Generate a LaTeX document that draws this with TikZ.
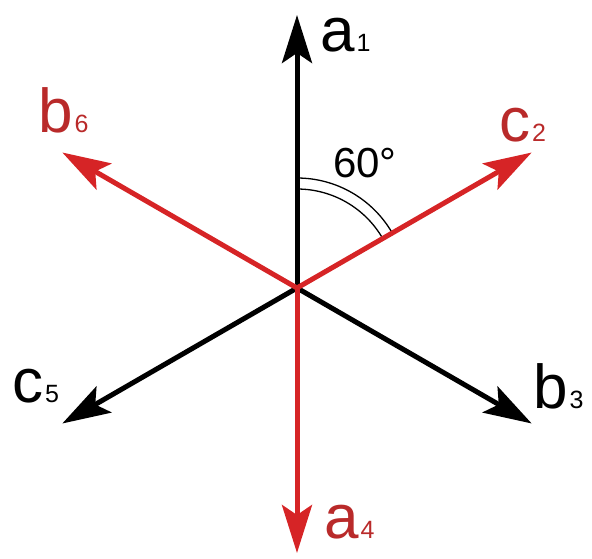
\documentclass[tikz,border=0pt]{standalone}
\usepackage{fontspec}
\setmainfont{Liberation Sans}
\usetikzlibrary{arrows.meta,calc}
\definecolor{arrred}{RGB}{214,36,38}
\definecolor{lblred}{RGB}{185,42,42}
\tikzset{
  vec/.style={line width=5pt, -{Stealth[length=48pt,width=30pt,inset=10pt]}},
  lbl/.style={anchor=base west, inner sep=0pt, font=\fontsize{62}{62}\selectfont},
  angarc/.style={line width=1.3pt, black}
}
\newcommand{\sub}[1]{\kern2pt{\fontsize{25}{25}\selectfont #1}}
\begin{document}
\begin{tikzpicture}[x=1pt,y=1pt]
\useasboundingbox (0,0) rectangle (592,558);
\coordinate (O) at (297,270);
\coordinate (A1) at ($(O)+(90:273)$);
\coordinate (A4) at ($(O)+(-90:265)$);
\coordinate (C2) at ($(O)+(30:271)$);
\coordinate (B6) at ($(O)+(150:271)$);
\coordinate (C5) at ($(O)+(210:271)$);
\coordinate (B3) at ($(O)+(-30:271)$);
% angle marks
\draw[angarc] ($(O)+(90:99)$) arc[start angle=90, end angle=30, radius=99];
\draw[angarc] ($(O)+(90:110)$) arc[start angle=90, end angle=30, radius=110];
% black vectors
\draw[vec, black] (O) -- (A1);
\draw[vec, black] (O) -- (C5);
\draw[vec, black] (O) -- (B3);
% red vectors
\draw[vec, arrred] (O) -- (B6);
\draw[vec, arrred] (O) -- (C2);
\draw[vec, arrred] (O) -- (A4);
% labels
\node[lbl, black] (la1) at (320,506) {a\sub{1}};
\node[lbl, lblred] (lb6) at (38,425) {b\sub{6}};
\node[lbl, lblred] (lc2) at (499,416) {c\sub{2}};
\node[lbl, black] (lc5) at (12,156) {c\sub{5}};
\node[lbl, black] (lb3) at (533,150) {b\sub{3}};
\node[lbl, lblred] (la4) at (324,20) {a\sub{4}};
\node[anchor=base west, inner sep=0pt, font=\fontsize{42}{42}\selectfont] (ang) at (333,380) {60°};
\end{tikzpicture}
\end{document}
